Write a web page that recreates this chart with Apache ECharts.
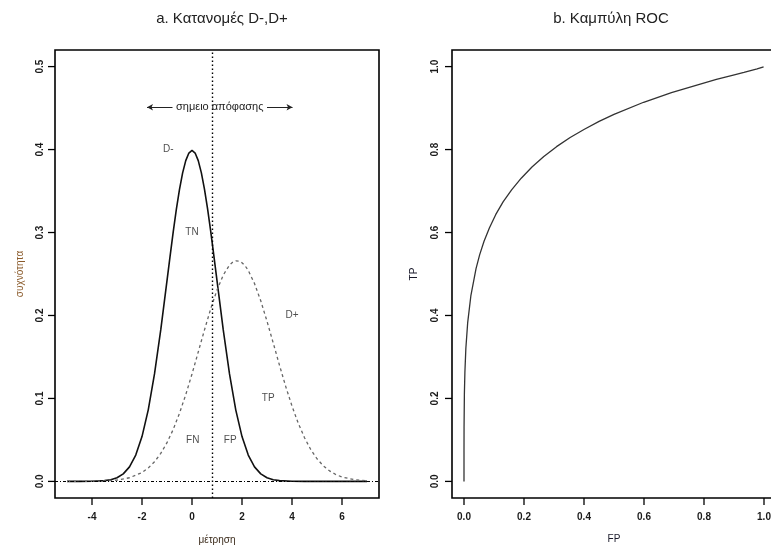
<!DOCTYPE html>
<html>
<head>
<meta charset="utf-8">
<script src="https://cdn.jsdelivr.net/npm/echarts@6/dist/echarts.min.js"></script>
<style>
html, body { margin: 0; padding: 0; background: #fff; }
#chart { width: 771px; height: 546px; }
</style>
</head>
<body>
<div id="chart"></div>
<script>
// a. κατανομές: τιμές x και πυκνότητες D-, D+
var xDminus = [-5, -4.5, -4, -3.5, -3.25, -3, -2.75, -2.5, -2.25, -2, -1.75, -1.5, -1.25, -1, -0.875, -0.75, -0.625, -0.5, -0.375, -0.25, -0.125, 0,
	0.125, 0.25, 0.375, 0.5, 0.625, 0.75, 0.875, 1, 1.25, 1.5, 1.75, 2, 2.25, 2.5, 2.75, 3, 3.25, 3.5, 4, 4.5, 5, 6, 7];
var yDminus = [0, 0, 0.0001, 0.0009, 0.0020, 0.0044, 0.0091, 0.0175, 0.0317, 0.0540, 0.0863, 0.1295, 0.1826, 0.2420, 0.2719, 0.3011, 0.3281, 0.3521, 0.3719, 0.3867, 0.3958, 0.3989,
	0.3958, 0.3867, 0.3719, 0.3521, 0.3281, 0.3011, 0.2719, 0.2420, 0.1826, 0.1295, 0.0863, 0.0540, 0.0317, 0.0175, 0.0091, 0.0044, 0.0020, 0.0009, 0.0001, 0, 0, 0, 0];
var xDplus = [-5, -4.5, -4, -3.5, -3, -2.5, -2, -1.75, -1.5, -1.25, -1, -0.75, -0.5, -0.25, 0, 0.25, 0.5, 0.75, 1, 1.25, 1.5, 1.625, 1.75, 1.875,
	2, 2.125, 2.25, 2.5, 2.75, 3, 3.25, 3.5, 3.75, 4, 4.25, 4.5, 4.75, 5, 5.25, 5.5, 5.75, 6, 6.5, 7];
var yDplus = [0, 0, 0.0002, 0.0005, 0.0016, 0.0044, 0.0107, 0.0162, 0.0236, 0.0337, 0.0467, 0.0627, 0.0822, 0.1045, 0.1295, 0.1560,
	0.1827, 0.2082, 0.2307, 0.2487, 0.2607, 0.2641, 0.2658, 0.2656, 0.2636, 0.2598, 0.2543, 0.2385, 0.2177, 0.1931, 0.1667, 0.1400, 0.1143, 0.0908, 0.0701,
	0.0527, 0.0384, 0.0273, 0.0189, 0.0127, 0.0083, 0.0053, 0.0020, 0.0007];
var decisionX = 0.8;

// b. καμπύλη ROC
var fpRoc = [0, 0.00003, 0.0002, 0.0013, 0.003, 0.0062, 0.0122, 0.0228, 0.0401, 0.0521, 0.0668, 0.0846, 0.1056, 0.1303, 0.1587,
	0.1908, 0.2266, 0.266, 0.3085, 0.3538, 0.4013, 0.4503, 0.5, 0.5987, 0.6915, 0.7734, 0.8413, 0.8944, 0.9332, 0.9772, 0.99865, 1];
var tpRoc = [0, 0.071, 0.129, 0.212, 0.263, 0.321, 0.382, 0.447, 0.513, 0.546, 0.579, 0.611, 0.643, 0.674, 0.703,
	0.731, 0.758, 0.783, 0.807, 0.829, 0.849, 0.868, 0.885, 0.914, 0.937, 0.955, 0.969, 0.979, 0.986, 0.9943, 0.9993, 1];

// ετικέτες
var labelsA = [
	{name: 'D-', value: [-0.95, 0.40]},
	{name: 'TN', value: [0, 0.30]},
	{name: 'D+', value: [4.0, 0.20]},
	{name: 'TP', value: [3.05, 0.10]},
	{name: 'FN', value: [0.03, 0.05]},
	{name: 'FP', value: [1.53, 0.05]}
];
var ticksXa = [-4, -2, 0, 2, 4, 6];
var ticksYa = [0, 0.1, 0.2, 0.3, 0.4, 0.5];
var ticksRoc = [0, 0.2, 0.4, 0.6, 0.8, 1];

function zip(a, b) {
	var out = [];
	for (var i = 0; i < a.length; i++) out.push([a[i], b[i]]);
	return out;
}

var font = 'Liberation Sans, Arial, sans-serif';

function fmt1(v) { return v.toFixed(1); }

function mkAxis(grid, min, max, ticks, pos, name, nameGap, nameColor, margin, formatter) {
	var a = {
		type: 'value', gridIndex: grid, min: min, max: max, position: pos,
		name: name, nameLocation: 'middle', nameGap: nameGap,
		nameTextStyle: {fontSize: 10, color: nameColor, fontFamily: font},
		axisLine: {show: false, onZero: false},
		axisTick: {show: false},
		splitLine: {show: false},
		axisLabel: {customValues: ticks, margin: margin, color: '#1a1a1a', fontSize: 10,
			fontWeight: 'bold', fontFamily: font}
	};
	if (formatter) a.axisLabel.formatter = formatter;
	if (pos === 'left') {
		a.nameRotate = 90;
		a.axisLabel.rotate = 90;
	}
	return a;
}

var myChart = echarts.init(document.getElementById('chart'));
var option = {
	animation: false,
	backgroundColor: '#fff',
	title: [
		{text: 'a. Κατανομές D-,D+', left: 217, top: 6, textAlign: 'center',
			textStyle: {fontSize: 15, fontWeight: 'normal', color: '#222', fontFamily: font}},
		{text: 'b. Καμπύλη ROC', left: 606, top: 6, textAlign: 'center',
			textStyle: {fontSize: 15, fontWeight: 'normal', color: '#222', fontFamily: font}}
	],
	grid: [
		{left: 55, top: 50, width: 324, height: 448, show: true, borderColor: '#000', borderWidth: 1.6,
			outerBoundsMode: 'none', containLabel: false},
		{left: 452, top: 50, width: 324, height: 448, show: true, borderColor: '#000', borderWidth: 1.6,
			outerBoundsMode: 'none', containLabel: false}
	],
	xAxis: [
		mkAxis(0, -5.48, 7.48, ticksXa, 'bottom', 'μέτρηση', 37, '#3a2a1a', 14, null),
		mkAxis(1, -0.04, 1.04, ticksRoc, 'bottom', 'FP', 36, '#1a1a2a', 14, fmt1)
	],
	yAxis: [
		mkAxis(0, -0.02, 0.52, ticksYa, 'left', 'συχνότητα', 30, '#8a5a2a', 10, fmt1),
		mkAxis(1, -0.04, 1.04, ticksRoc, 'left', 'TP', 33, '#1a1a2a', 12, fmt1)
	],
	series: [
		{
			name: 'D-', type: 'line', xAxisIndex: 0, yAxisIndex: 0,
			data: zip(xDminus, yDminus), showSymbol: false,
			lineStyle: {color: '#111', width: 1.6},
			markLine: {
				silent: true, symbol: 'none', label: {show: false},
				data: [
					{xAxis: decisionX, lineStyle: {type: [1.5, 2.5], color: '#000', width: 1.4}},
					{yAxis: 0, lineStyle: {type: [3, 2, 1, 2], color: '#000', width: 1.2}}
				]
			}
		},
		{
			name: 'D+', type: 'line', xAxisIndex: 0, yAxisIndex: 0,
			data: zip(xDplus, yDplus), showSymbol: false,
			lineStyle: {color: '#666', width: 1.3, type: [3, 3]}
		},
		{
			name: 'labels', type: 'scatter', xAxisIndex: 0, yAxisIndex: 0,
			data: labelsA, symbolSize: 0, silent: true,
			label: {show: true, position: 'inside', formatter: '{b}',
				color: '#222', fontSize: 10, fontFamily: font},
			markLine: {
				silent: true, symbol: ['arrow', 'none'], symbolSize: [5, 6],
				label: {show: false},
				lineStyle: {type: 'solid', color: '#222', width: 1},
				data: [
					[{coord: [-1.8, 0.451]}, {coord: [-0.78, 0.451]}],
					[{coord: [4.02, 0.451]}, {coord: [3.0, 0.451]}]
				]
			},
			markPoint: {
				silent: true, symbol: 'circle', symbolSize: 0,
				label: {show: true, position: 'inside', formatter: 'σημειο απόφασης',
					color: '#222', fontSize: 11, fontFamily: font},
				data: [{coord: [1.11, 0.451]}]
			}
		},
		{
			name: 'ROC', type: 'line', xAxisIndex: 1, yAxisIndex: 1,
			data: zip(fpRoc, tpRoc), showSymbol: false,
			lineStyle: {color: '#333', width: 1.3}
		}
	]
};
myChart.setOption(option);

// τικ έξω από το πλαίσιο, στις θέσεις που δίνουν οι άξονες
function drawTicks() {
	var els = [];
	var len = 7;
	function tickLine(x1, y1, x2, y2) {
		els.push({type: 'line', silent: true, z: 10,
			shape: {x1: x1, y1: y1, x2: x2, y2: y2},
			style: {stroke: '#000', lineWidth: 1.3}});
	}
	function xTicks(idx, ticks, yEdge) {
		var y0 = myChart.convertToPixel({yAxisIndex: idx}, yEdge);
		for (var i = 0; i < ticks.length; i++) {
			var x = myChart.convertToPixel({xAxisIndex: idx}, ticks[i]);
			tickLine(x, y0, x, y0 + len);
		}
	}
	function yTicks(idx, ticks, xEdge) {
		var x0 = myChart.convertToPixel({xAxisIndex: idx}, xEdge);
		for (var i = 0; i < ticks.length; i++) {
			var y = myChart.convertToPixel({yAxisIndex: idx}, ticks[i]);
			tickLine(x0, y, x0 - len, y);
		}
	}
	xTicks(0, ticksXa, -0.02);
	yTicks(0, ticksYa, -5.48);
	xTicks(1, ticksRoc, -0.04);
	yTicks(1, ticksRoc, -0.04);
	myChart.setOption({graphic: {elements: els}});
}
drawTicks();
</script>
</body>
</html>
